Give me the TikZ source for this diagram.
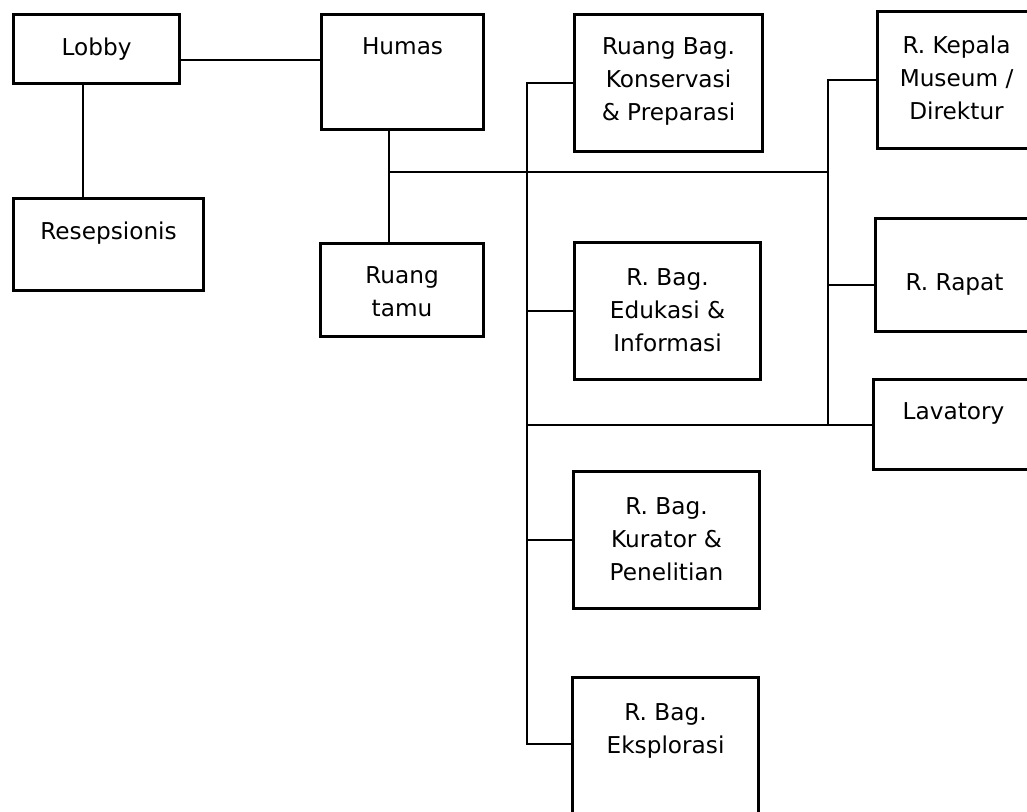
\documentclass[tikz,border=0pt]{standalone}
\usepackage{fontspec}
\setmainfont{DejaVu Sans}
\begin{document}
\begin{tikzpicture}[x=1cm,y=-1cm,
        room/.style={draw, line width=2.2pt, anchor=north west, inner sep=0pt},
        roomtxt/.style={anchor=north, align=center, inner sep=0pt, font=\fontsize{16.5}{23.5}\selectfont},
        link/.style={line width=1.4pt}]
        \clip (0,0) rectangle (25.675,20.3); \fill[white] (0,0) rectangle (25.675,20.3);

        \node[room, minimum width=4.15cm, minimum height=1.725cm] (lobby) at (0.30,0.325) {};
        \node[room, minimum width=4.75cm, minimum height=2.3cm] (resep) at (0.30,4.925) {};
        \node[room, minimum width=4.05cm, minimum height=2.875cm] (humas) at (8.0,0.325) {};
        \node[room, minimum width=4.075cm, minimum height=2.325cm] (tamu) at (7.975,6.05) {};
        \node[room, minimum width=4.7cm, minimum height=3.425cm] (konserv) at (14.325,0.325) {};
        \node[room, minimum width=3.95cm, minimum height=3.425cm] (kepala) at (21.9,0.25) {};
        \node[room, minimum width=4.65cm, minimum height=3.425cm] (edukasi) at (14.325,6.025) {};
        \node[room, minimum width=3.95cm, minimum height=2.825cm] (rapat) at (21.85,5.425) {};
        \node[room, minimum width=4.0cm, minimum height=2.25cm] (lavatory) at (21.8,9.45) {};
        \node[room, minimum width=4.65cm, minimum height=3.425cm] (kurator) at (14.3,11.75) {};
        \node[room, minimum width=4.65cm, minimum height=3.8cm] (eksplor) at (14.275,16.9) {};

        \node[roomtxt, below=17.5pt] (lobby-t) at (lobby.north) {Lobby};
        \node[roomtxt, below=17.5pt] (resep-t) at (resep.north) {Resepsionis};
        \node[roomtxt, below=17.5pt] (humas-t) at (humas.north) {Humas};
        \node[roomtxt, below=17.5pt] (tamu-t) at (tamu.north) {Ruang\\tamu};
        \node[roomtxt, below=17.5pt] (konserv-t) at (konserv.north) {Ruang Bag.\\Konservasi\\\& Preparasi};
        \node[roomtxt, below=18.5pt] (kepala-t) at (kepala.north) {R. Kepala\\Museum /\\Direktur};
        \node[roomtxt, below=19.5pt] (edukasi-t) at (edukasi.north) {R. Bag.\\Edukasi \&\\Informasi};
        \node[roomtxt, below=40pt] (rapat-t) at (rapat.north) {R. Rapat};
        \node[roomtxt, below=17.5pt] (lavatory-t) at (lavatory.north) {Lavatory};
        \node[roomtxt, below=19.5pt] (kurator-t) at (kurator.north) {R. Bag.\\Kurator \&\\Penelitian};
        \node[roomtxt, below=19.5pt] (eksplor-t) at (eksplor.north) {R. Bag.\\Eksplorasi};

        \coordinate (lob) at (2.075,0); \coordinate (lh) at (0,1.5); \coordinate (hum) at (9.725,0);
        \coordinate (busH) at (0,4.3); \coordinate (busL) at (13.175,0); \coordinate (busR) at (20.7,0);
        \coordinate (rp) at (0,7.125); \coordinate (eb) at (0,18.6);

        \draw[link] (lobby.south -| lob) -- (resep.north -| lob); \draw[link] (lobby.east |- lh) -- (humas.west |- lh);
        \draw[link] (humas.south -| hum) -- (tamu.north -| hum); \draw[link] (busH -| hum) -- (busH -| busR);
        \draw[link] (kepala.west) -- (kepala.west -| busR) -- (lavatory.west -| busR); \draw[link] (rp -| busR) -- (rapat.west |- rp);
        \draw[link] (konserv.west) -- (konserv.west -| busL) -- (eb -| busL) -- (eksplor.west |- eb);
        \draw[link] (edukasi.west -| busL) -- (edukasi.west); \draw[link] (kurator.west -| busL) -- (kurator.west);
        \draw[link] (lavatory.west -| busL) -- (lavatory.west);
    \end{tikzpicture}
\end{document}
